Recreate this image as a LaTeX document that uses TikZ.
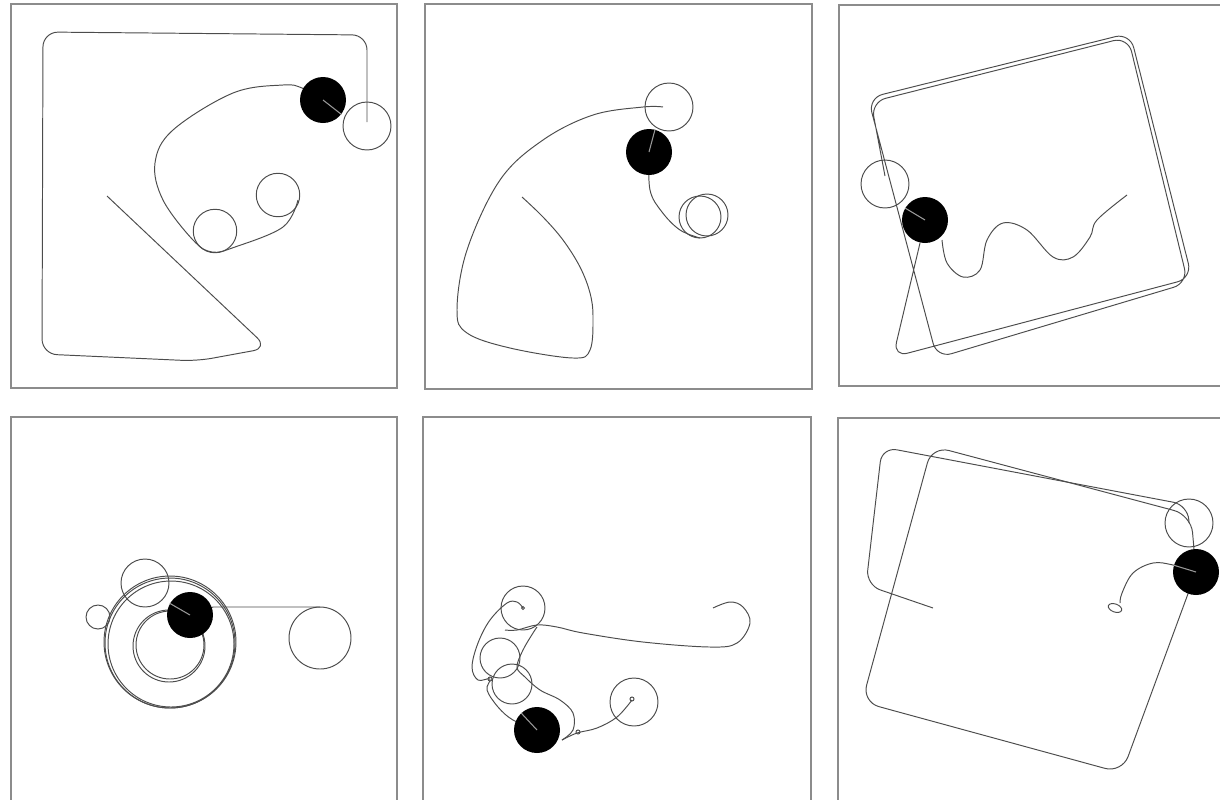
\documentclass[tikz,border=0pt]{standalone}
\usepackage{tikz}

\begin{document}
\begin{tikzpicture}[
      x=0.02cm, y=-0.02cm,
      panel/.style={draw=black!45, line width=0.9pt},
      trail/.style={draw=black!70, line width=0.55pt},
      agent/.style={circle, fill=black, inner sep=0pt, minimum size=0.92cm},
      ghost/.style={circle, draw=black!70, line width=0.55pt, inner sep=0pt, minimum size=0.96cm},
      head/.style={draw=black!40, line width=0.6pt}
    ]
      \useasboundingbox (0,0) rectangle (1220,799);
      \clip (0,0) rectangle (1220,799);
      % frames
      \draw[panel] (11,4) rectangle (397,388);
      \draw[panel] (425,4) rectangle (812,389);
      \draw[panel] (839,5) rectangle (1230,386);
      \draw[panel] (11,417) rectangle (397,810);
      \draw[panel] (423,417) rectangle (811,810);
      \draw[panel] (838,418) rectangle (1230,810);

      % panel 1
      \draw[trail, rounded corners=0.3cm] (107,196) -- (268,348) -- (197,361) -- (42,354) -- (43,32) -- (367,35) -- (367,122);
      \draw[trail] plot[smooth, tension=0.6] coordinates {(323,100) (302,88) (283,85) (233,93) (173,130) (155,163) (163,200) (193,240) (212,252) (235,247) (283,227) (298,200)};
      \node[ghost, minimum size=0.87cm] (g1a) at (215,231) {};
      \node[ghost, minimum size=0.87cm] (g1b) at (278,195) {};
      \node[ghost] (g1c) at (367,126) {};
      \node[agent] (a1) at (323,100) {};
      \draw[head] (a1.center) -- (a1.-38);

      % panel 2
      \draw[trail] plot[smooth, tension=0.6] coordinates {(663,107) (643,107) (593,115) (543,140) (500,180) (467,250) (457,310) (467,333) (510,348) (573,358) (590,350) (593,317) (590,293) (580,267) (563,240) (543,217) (522,197)};
      \draw[trail] plot[smooth, tension=0.6] coordinates {(649,152) (650,190) (662,212) (680,230) (700,238)};
      \draw[trail] (707,215) circle[radius=0.42cm];
      \node[ghost, minimum size=0.84cm] (g2a) at (700,217) {};
      \node[ghost] (g2b) at (669,107) {};
      \node[agent] (a2) at (649,152) {};
      \draw[head] (a2.center) -- (a2.75);

      % panel 3
      \draw[trail, rounded corners=0.3cm] (920,243) -- (893,357) -- (1192,278) -- (1130,33) -- (868,98) -- (937,358) -- (1188,283) -- (1128,37) -- (871,102) -- (885,176);
      \draw[trail] plot[smooth, tension=0.6] coordinates {(942,240) (947,263) (963,277) (980,270) (987,240) (1003,223) (1027,230) (1053,257) (1073,257) (1090,237) (1097,220) (1127,195)};
      \node[ghost] (g3) at (885,184) {};
      \node[agent] (a3) at (925,220) {};
      \draw[head] (a3.center) -- (a3.149);

      % panel 4
      \draw[trail] (170,643) circle[radius=1.3cm];
      \draw[trail] (171,644) circle[radius=1.26cm];
      \draw[trail] (170,642) circle[radius=1.32cm];
      \draw[trail] (169,646) circle[radius=0.72cm];
      \draw[trail] (170,645) circle[radius=0.68cm];
      \draw[trail] (98,617) circle[radius=0.24cm];
      \draw[trail] (190,615) -- (213,607) -- (320,607);
      \draw[trail] (320,638) circle[radius=0.62cm];
      \node[ghost] (g4) at (145,583) {};
      \node[agent] (a4) at (190,615) {};
      \draw[head] (a4.center) -- (a4.150);

      % panel 5
      \draw[trail] plot[smooth, tension=0.6] coordinates {(523,608) (517,602) (507,603) (490,620) (478,643) (472,667) (478,680) (490,679) (487,690) (498,707) (513,720) (537,730)};
      \draw[trail] plot[smooth, tension=0.6] coordinates {(505,630) (517,630) (537,625) (557,627) (583,633) (643,642) (710,647) (737,643) (750,623) (743,607) (730,602) (713,608)};
      \draw[trail] plot[smooth, tension=0.6] coordinates {(537,627) (533,633) (523,650) (517,667) (525,677) (540,690) (560,700) (573,713) (573,730) (562,740)};
      \draw[trail] plot[smooth, tension=0.6] coordinates {(562,740) (577,733) (597,728) (617,717) (632,700)};
      \draw[trail] (523,608) circle[radius=0.03cm];
      \draw[trail] (632,699) circle[radius=0.04cm];
      \draw[trail] (578,732) circle[radius=0.04cm];
      \draw[trail] (490,679) circle[radius=0.04cm];
      \node[ghost, minimum size=0.88cm] (g5a) at (523,608) {};
      \node[ghost, minimum size=0.8cm] (g5b) at (500,658) {};
      \node[ghost, minimum size=0.8cm] (g5c) at (512,684) {};
      \node[ghost] (g5d) at (634,702) {};
      \node[agent] (a5) at (537,730) {};
      \draw[head] (a5.center) -- (a5.133);

      % panel 6
      \draw[trail, rounded corners=0.3cm] (933,608) -- (866,585) -- (882,447) -- (1188,505) -- (1189,523);
      \draw[trail, rounded corners=0.35cm] (1196,572) -- (1191,515) -- (932,446) -- (862,702) -- (1122,773) -- (1196,572);
      \draw[trail] plot[smooth, tension=0.6] coordinates {(1196,572) (1173,565) (1153,563) (1133,573) (1122,593) (1120,603)};
      \draw[trail, rotate around={-20:(1115,608)}] (1115,608) ellipse[x radius=0.14cm, y radius=0.08cm];
      \node[ghost] (g6) at (1189,523) {};
      \node[agent] (a6) at (1196,572) {};
      \draw[head] (a6.center) -- (a6.163);
    \end{tikzpicture}
\end{document}
